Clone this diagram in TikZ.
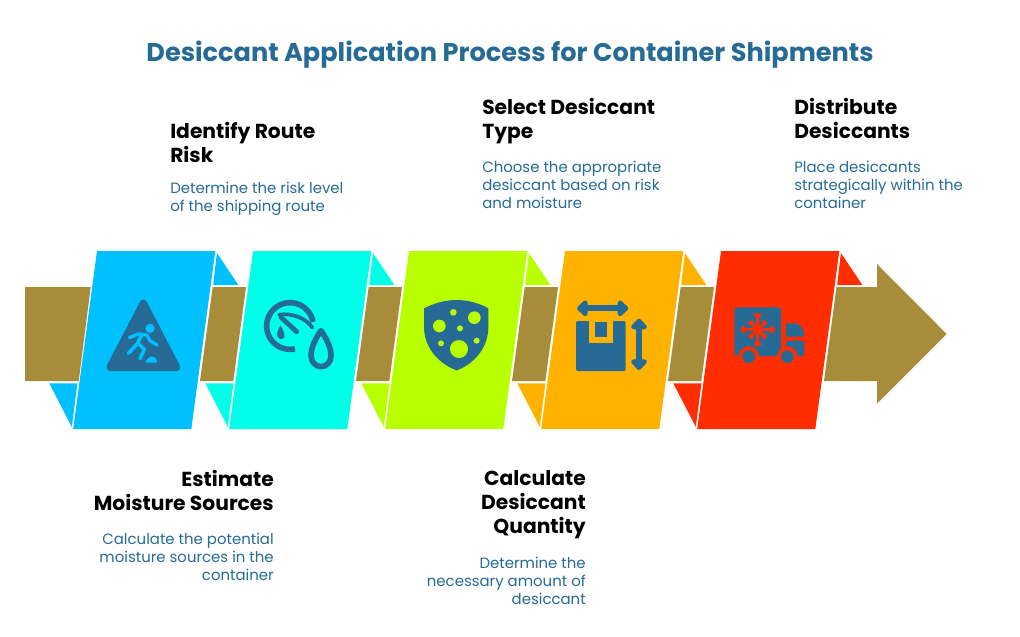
\documentclass[tikz,border=0pt]{standalone}
\usepackage{fontspec}
\setmainfont{Poppins}
\definecolor{ink}{HTML}{266A96}
\definecolor{band}{HTML}{A78D39}
\definecolor{cA}{HTML}{00C0FF}
\definecolor{cB}{HTML}{00FFE8}
\definecolor{cC}{HTML}{B8FF00}
\definecolor{cD}{HTML}{FFB300}
\definecolor{cE}{HTML}{FF2D00}
\newcommand{\titlefont}{\fontsize{19.2pt}{24pt}\bfseries\selectfont}
\newcommand{\headfont}{\fontsize{15.2pt}{18pt}\bfseries\selectfont}
\newcommand{\descfont}{\fontsize{11.2pt}{13.5pt}\selectfont}
\tikzset{
  heading/.style={inner sep=0pt,text=black,font=\headfont},
  desc/.style={inner sep=0pt,text=ink,font=\descfont},
}
\begin{document}
\begin{tikzpicture}[x=0.75pt,y=-0.75pt]
\useasboundingbox[fill=white] (0,0) rectangle (1020,636);
% band
\fill[band] (25,287) -- (90.7,287) -- (78.7,381) -- (25,381) -- cycle;
\foreach \i in {0,1,2,3}{
  \fill[band] ({212.7+156*\i},287) -- ({246+156*\i},287) -- ({233.3+156*\i},381) -- ({200+156*\i},381) -- cycle;
}
\fill[band] (836.5,287) -- (877,287) -- (877,264) -- (946.7,334) -- (877,403.5) -- (877,381) -- (824,381) -- cycle;
% panels and tabs
\foreach \i/\c in {0/cA,1/cB,2/cC,3/cD,4/cE}{
  \fill[\c] ({97+156*\i},251) -- ({215.3+156*\i},251) -- ({191.3+156*\i},429) -- ({73.2+156*\i},429) -- cycle;
  \fill[\c] ({216.9+156*\i},253) -- ({238.4+156*\i},285) -- ({213.2+156*\i},285) -- cycle;
  \fill[\c] ({49.3+156*\i},383.3) -- ({77.4+156*\i},383.3) -- ({71.8+156*\i},427) -- cycle;
}
% icon 1
\begin{scope}[shift={(100,290)},x=0.25pt,y=-0.25pt]
  \fill[ink,draw=ink,line width=5.5pt,line join=round] (130,40) -- (230,232) -- (30,232) -- cycle;
  \fill[cA] (150,115) circle[radius=14];
  \draw[cA,line width=2.5pt,line cap=round,line join=round] (88,143) -- (115,132) -- (140,135) -- (150,152) -- (171,165);
  \draw[cA,line width=2.7pt,line cap=round,line join=round] (125,135) -- (113,160) -- (85,190);
  \draw[cA,line width=2.7pt,line cap=round,line join=round] (113,160) -- (133,178) -- (120,206);
  \fill[cA] (136,218) .. controls (140,205) and (150,198) .. (158,200) .. controls (168,203) and (172,210) .. (172,218) -- cycle;
\end{scope}
% icon 2
\begin{scope}[shift={(255,290)},x=0.25pt,y=-0.25pt]
  \draw[ink,line width=4.2pt,line cap=butt] plot[domain=78:350,samples=50] ({105+70*cos(\x)},{108+70*sin(\x)});
  \draw[ink,line width=2.8pt,line cap=round] (72,74) .. controls (110,68) and (155,85) .. (172,113);
  \draw[ink,line width=3.6pt,line cap=round] (78,82) -- (125,125);
  \fill[ink] (77,106) .. controls (68,120) and (64,132) .. (68,140) .. controls (72,150) and (86,150) .. (88,140) .. controls (90,130) and (82,118) .. (77,106) -- cycle;
  \draw[ink,line width=4.2pt,line join=round] (198,122) .. controls (185,140) and (168,170) .. (168,197) .. controls (168,215) and (182,230) .. (198,230) .. controls (215,230) and (228,215) .. (228,197) .. controls (228,170) and (211,140) .. (198,122) -- cycle;
\end{scope}
% icon 3
\begin{scope}[shift={(415,290)},x=0.25pt,y=-0.25pt]
  \fill[ink] (27,55) .. controls (60,38) and (95,30) .. (125,30) .. controls (155,30) and (190,38) .. (220,55) -- (220,110) .. controls (220,180) and (170,225) .. (125,241) .. controls (80,225) and (27,180) .. (27,110) -- cycle;
  \foreach \px/\py/\r in {115/67/10,178/83/19,73/108/19,135/115/9,78/160/9,185/152/9,132/177/27}{
    \fill[cC] (\px,\py) circle[radius=\r];
  }
\end{scope}
% icon 4
\begin{scope}[shift={(570,290)},x=0.25pt,y=-0.25pt]
  \fill[ink,rounded corners=1.5pt] (18,93) rectangle (167,243);
  \fill[cD] (57,90) rectangle (128,158);
  \fill[ink] (76,97) rectangle (110,140);
  \draw[ink,line width=4.4pt] (40,55) -- (155,55);
  \fill[ink,draw=ink,line width=3.4pt,line join=round] (28,55) -- (46,38) -- (46,72) -- cycle;
  \fill[ink,draw=ink,line width=3.4pt,line join=round] (168,55) -- (150,38) -- (150,72) -- cycle;
  \draw[ink,line width=4.4pt] (207,105) -- (207,225);
  \fill[ink,draw=ink,line width=3.4pt,line join=round] (207,93) -- (190,111) -- (224,111) -- cycle;
  \fill[ink,draw=ink,line width=3.4pt,line join=round] (207,233) -- (190,215) -- (224,215) -- cycle;
\end{scope}
% icon 5
\begin{scope}[shift={(725,295)},x=0.25pt,y=-0.25pt]
  \fill[ink,rounded corners=2pt] (28,37) rectangle (168,183);
  \fill[ink] (183,85) -- (208,85) .. controls (225,85) and (238,100) .. (238,125) -- (183,125) -- cycle;
  \fill[ink,rounded corners=2pt] (183,137) -- (238,137) -- (238,183) -- (183,183) -- cycle;
  \fill[cE] (71,185) circle[radius=31];
  \fill[cE] (187,185) circle[radius=31];
  \fill[ink] (71,185) circle[radius=19];
  \fill[ink] (187,185) circle[radius=19];
  \begin{scope}[shift={(98,104)}]
    \foreach \a in {0,90,180,270}{
      \draw[cE,line width=2.4pt,line cap=round,rotate=\a] (0,0) -- (48,0);
      \draw[cE,line width=1.8pt,line cap=round,line join=round,rotate=\a] (45,-9) -- (37,0) -- (45,9);
    }
    \foreach \a in {45,135,225,315}{
      \draw[cE,line width=2.4pt,line cap=round,rotate=\a] (0,0) -- (30,0);
      \draw[cE,line width=2pt,line cap=round,rotate=\a] (30,-6) -- (30,6);
    }
  \end{scope}
\end{scope}
% texts
\node[inner sep=0pt,text=ink,font=\titlefont] (title) at (510,55) {Desiccant Application Process for Container Shipments};
\node[heading,anchor=north west,align=left] (h1) at (170,122) {Identify Route\\Risk};
\node[desc,anchor=north west,align=left] (d1) at (170,181.6) {Determine the risk level\\of the shipping route};
\node[heading,anchor=north west,align=left] (h3) at (482,98) {Select Desiccant\\Type};
\node[desc,anchor=north west,align=left] (d3) at (482,160.6) {Choose the appropriate\\desiccant based on risk\\and moisture};
\node[heading,anchor=north west,align=left] (h5) at (794,98) {Distribute\\Desiccants};
\node[desc,anchor=north west,align=left] (d5) at (794,160.6) {Place desiccants\\strategically within the\\container};
\node[heading,anchor=north east,align=right] (h2) at (274,470) {Estimate\\Moisture Sources};
\node[desc,anchor=north east,align=right] (d2) at (274,532.6) {Calculate the potential\\moisture sources in the\\container};
\node[heading,anchor=north east,align=right] (h4) at (586,470) {Calculate\\Desiccant\\Quantity};
\node[desc,anchor=north east,align=right] (d4) at (586,556.6) {Determine the\\necessary amount of\\desiccant};
\end{tikzpicture}
\end{document}
